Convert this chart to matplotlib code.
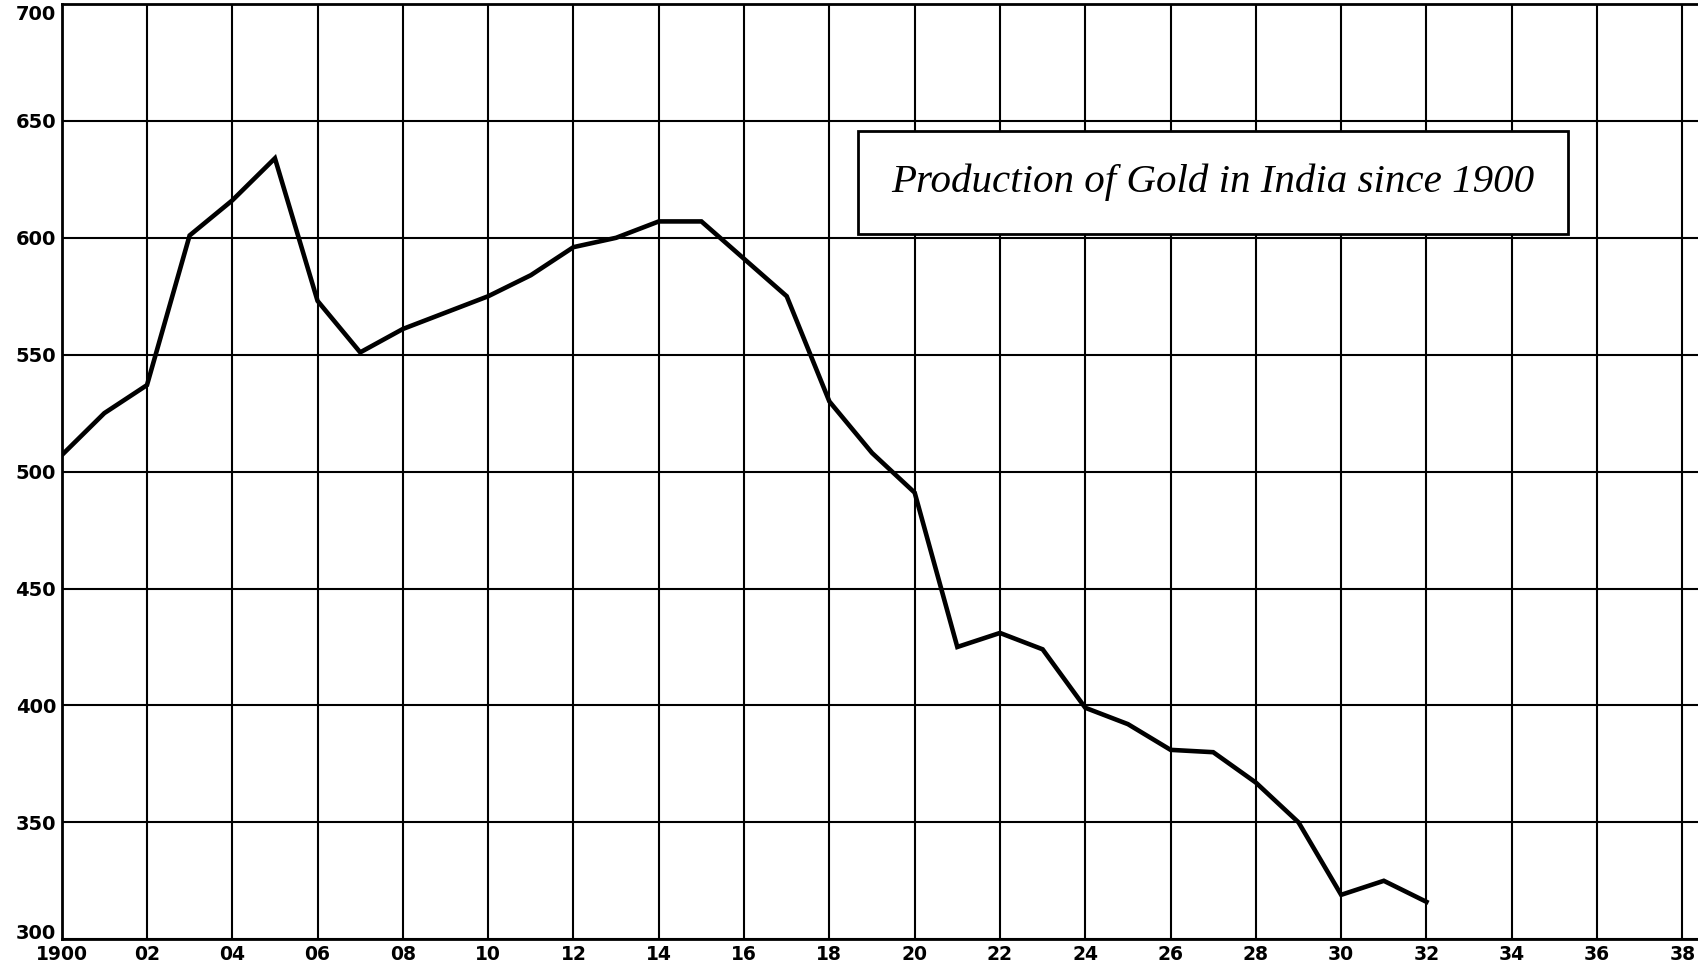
import matplotlib
matplotlib.use('Agg')
import matplotlib.pyplot as plt
import matplotlib.transforms as mtransforms
from matplotlib.patches import Rectangle

# gold production, India, 1900-1932
years = list(range(1900, 1933))
production = [507, 525, 537, 601, 616, 634, 573, 551, 561, 568, 575, 584, 596,
              600, 607, 607, 591, 575, 530, 508, 491, 425, 431, 424, 399, 392,
              381, 380, 367, 350, 319, 325, 316]

xtick_years = list(range(1900, 1939, 2))
xtick_labels = ['1900'] + ['%02d' % (y % 100) for y in xtick_years[1:]]
ytick_vals = [300, 350, 400, 450, 500, 550, 600, 650, 700]

fig = plt.figure(figsize=(16.99, 9.69), dpi=100)
ax = fig.add_axes([0.0363, 0.0307, 0.9637, 0.9652])

ax.plot(years, production, color='black', lw=3.3, solid_joinstyle='miter', zorder=3)

ax.set_xlim(1900, 1938.39)
ax.set_ylim(300, 700)
ax.set_xticks(xtick_years)
ax.set_xticklabels(xtick_labels)
ax.set_yticks(ytick_vals)
ax.set_yticklabels([str(v) for v in ytick_vals])
ax.grid(True, color='black', lw=1.5)
ax.set_axisbelow(True)
ax.tick_params(axis='y', length=0, labelsize=14, pad=4)
ax.tick_params(axis='x', length=0, labelsize=13.5, pad=4)
for lab in ax.get_xticklabels() + ax.get_yticklabels():
    lab.set_fontweight('bold')
    lab.set_family('DejaVu Sans')

# nudge the end labels like on the original (300 sits a bit above, 700 a bit below)
ylabs = ax.get_yticklabels()
ylabs[0].set_transform(ylabs[0].get_transform() +
                       mtransforms.ScaledTranslation(0, 8 / 100, fig.dpi_scale_trans))
ylabs[-1].set_transform(ylabs[-1].get_transform() +
                        mtransforms.ScaledTranslation(0, -9 / 100, fig.dpi_scale_trans))

for s in ['left', 'bottom', 'top']:
    ax.spines[s].set_linewidth(2)
ax.spines['right'].set_visible(False)

# title box
box = Rectangle((0.505, 0.7585), 0.418, 0.1063, transform=fig.transFigure,
                facecolor='white', edgecolor='black', lw=2, zorder=5)
fig.patches.append(box)
fig.text(0.714, 0.8117, 'Production of Gold in India since 1900', ha='center', va='center',
         family='Liberation Serif', style='italic', fontsize=29.5, zorder=6)

plt.savefig('out.png', dpi=100)
